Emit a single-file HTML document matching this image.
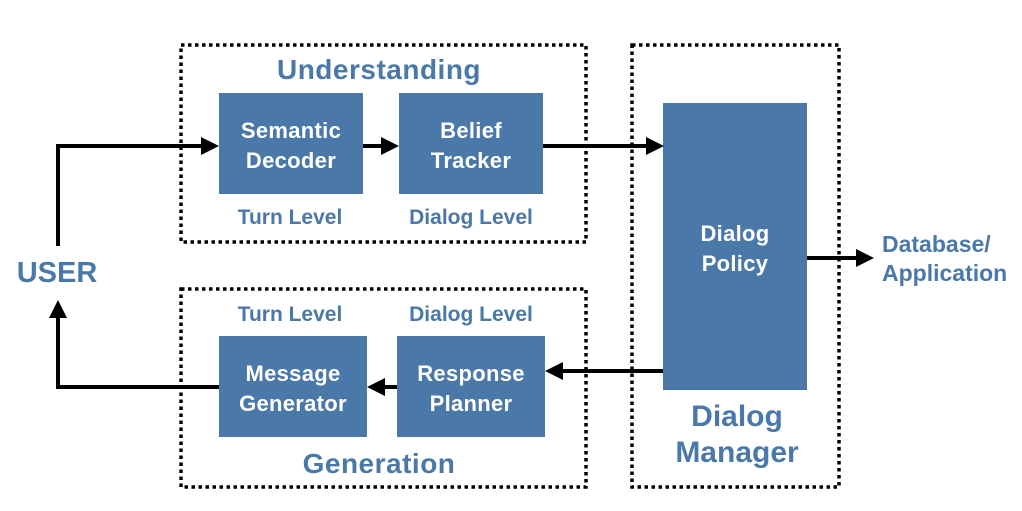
<!DOCTYPE html>
<html><head><style>
html,body{margin:0;padding:0;background:#fff;}
svg text{font-family:"Liberation Sans",Arial,sans-serif;font-weight:bold;}
</style></head><body>
<svg width="1022" height="506" viewBox="0 0 1022 506" xmlns="http://www.w3.org/2000/svg">
<g fill="none" stroke="#000" stroke-width="3.5" stroke-dasharray="3.5 3.5">
<rect x="181" y="45" width="405" height="197"/>
<rect x="181" y="289" width="405" height="198"/>
<rect x="632" y="45" width="207" height="442"/>
</g>
<g fill="#4a78a8">
<rect x="219" y="93" width="144" height="101"/>
<rect x="399" y="93" width="144" height="101"/>
<rect x="219" y="336" width="148" height="101"/>
<rect x="397" y="336" width="148" height="101"/>
<rect x="663" y="103" width="144" height="287"/>
</g>
<g stroke="#000" stroke-width="4" fill="none">
<polyline points="58,246 58,146 201,146"/>
<line x1="363" y1="146" x2="382" y2="146"/>
<line x1="543" y1="146" x2="646" y2="146"/>
<line x1="807" y1="258" x2="856" y2="258"/>
<line x1="663" y1="371" x2="563" y2="371"/>
<line x1="397" y1="387" x2="384" y2="387"/>
<polyline points="219,387 58,387 58,318"/>
</g>
<g fill="#000">
<path d="M201,137 L219,146 L201,155 z"/>
<path d="M381,137 L399,146 L381,155 z"/>
<path d="M646,137 L664,146 L646,155 z"/>
<path d="M856,249 L874,258 L856,267 z"/>
<path d="M563,362 L545,371 L563,380 z"/>
<path d="M385,378 L367,387 L385,396 z"/>
<path d="M49,318 L58,300 L67,318 z"/>
</g>
<g fill="#fff" font-size="22" text-anchor="middle" letter-spacing="0.3">
<text x="291" y="138">Semantic</text><text x="291" y="168">Decoder</text>
<text x="471" y="138">Belief</text><text x="471" y="168">Tracker</text>
<text x="293" y="381">Message</text><text x="293" y="411">Generator</text>
<text x="471" y="381">Response</text><text x="471" y="411">Planner</text>
<text x="735" y="241">Dialog</text><text x="735" y="271">Policy</text>
</g>
<g fill="#4a78a8" text-anchor="middle">
<text x="379" y="79" font-size="28" letter-spacing="0.5">Understanding</text>
<text x="379" y="473" font-size="28" letter-spacing="0.5">Generation</text>
<text x="737" y="426" font-size="30">Dialog</text>
<text x="737" y="462" font-size="30">Manager</text>
<text x="57" y="282" font-size="29">USER</text>
<text x="290" y="224" font-size="21">Turn Level</text>
<text x="471" y="224" font-size="21">Dialog Level</text>
<text x="290" y="321" font-size="21">Turn Level</text>
<text x="471" y="321" font-size="21">Dialog Level</text>
<text x="882" y="252" font-size="23" text-anchor="start">Database/</text>
<text x="882" y="281" font-size="23" text-anchor="start">Application</text>
</g>
</svg>
</body></html>
